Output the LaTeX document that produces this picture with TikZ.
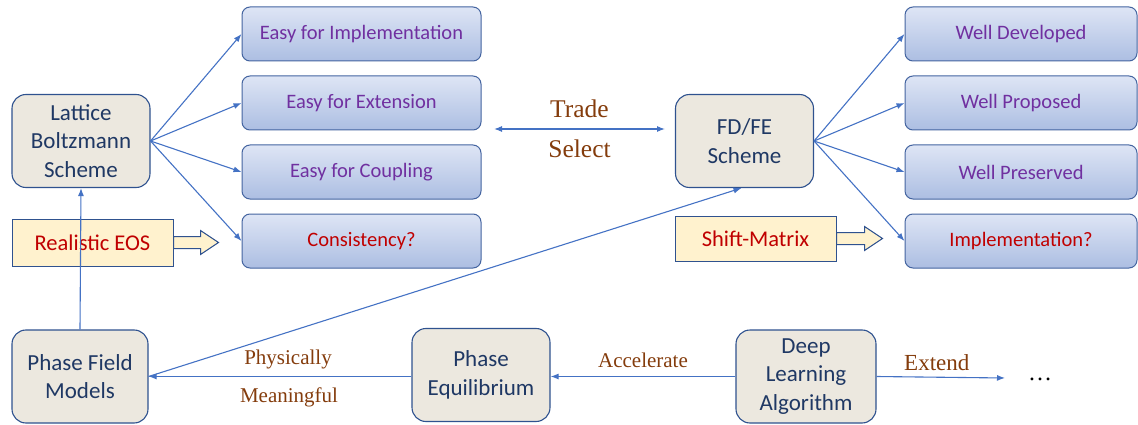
\documentclass[tikz,border=0pt]{standalone}
\usepackage{fontspec}
\setmainfont{Liberation Serif}
\setsansfont{Carlito}
\usepackage{tikz}
\usetikzlibrary{arrows.meta,positioning}
\definecolor{boxblue}{RGB}{47,82,143}
\definecolor{navy}{RGB}{31,56,100}
\definecolor{canvas}{RGB}{236,232,223}
\definecolor{edgeblue}{RGB}{68,100,160}
\definecolor{lightblue}{RGB}{222,229,245}
\definecolor{midblue}{RGB}{172,190,226}
\definecolor{violet}{RGB}{112,48,160}
\definecolor{cream}{RGB}{255,242,206}
\definecolor{darkred}{RGB}{192,0,0}
\definecolor{rust}{RGB}{132,60,12}
\definecolor{arrowblue}{RGB}{68,114,196}

\begin{document}
\begin{tikzpicture}[x=1pt,y=-1pt,node distance=14pt and 14pt,
  greybox/.style={draw=boxblue,fill=canvas,line width=1.1pt,rounded corners=14pt,minimum width=138pt,minimum height=93pt,align=center,text=navy,font=\sffamily\fontsize{23}{28.5}\selectfont},
  bluebox/.style={draw=edgeblue,line width=1pt,top color=lightblue,bottom color=midblue,rounded corners=8pt,minimum width=239pt,minimum height=54pt,text=violet,font=\sffamily\fontsize{20.5}{24}\selectfont},
  notebox/.style={draw=boxblue,fill=cream,line width=1pt,minimum width=161pt,minimum height=47pt,text=darkred,font=\sffamily\fontsize{22.5}{24}\selectfont},
  lbl/.style={text=rust,font=\fontsize{21}{24}\selectfont},
  link/.style={draw=arrowblue,line width=1.1pt,-{Latex[length=8pt,width=6pt]}}]
\useasboundingbox (0,0) rectangle (1138,425);

% left scheme
\node[greybox] (lb) at (81,141) {Lattice\\Boltzmann\\Scheme};
\node[bluebox] (impl) at (361.5,34) {Easy for Implementation};
\node[bluebox,below=of impl] (ext) {Easy for Extension};
\node[bluebox,below=of ext] (coup) {Easy for Coupling};
\node[bluebox,below=of coup,text=darkred] (cons) {Consistency?};
\node[notebox] (eos) at (92.5,242.5) {Realistic EOS};

% right scheme
\node[greybox] (fdfe) at (744.5,141) {FD/FE\\Scheme};
\node[bluebox,minimum width=232pt] (dev) at (1021,34) {Well Developed};
\node[bluebox,minimum width=232pt,below=of dev] (prop) {Well Proposed};
\node[bluebox,minimum width=232pt,below=of prop] (pres) {Well Preserved};
\node[bluebox,minimum width=232pt,below=of pres,text=darkred] (implq) {Implementation?};
\node[notebox,minimum height=45pt] (shift) at (755.5,238.5) {Shift-Matrix};

% bottom row
\node[greybox,minimum width=136pt] (pfm) at (80,376.5) {Phase Field\\Models};
\node[greybox] (peq) at (481,375) {Phase\\Equilibrium};
\node[greybox,minimum width=140pt] (dla) at (806,376.5) {Deep\\Learning\\Algorithm};
\node[font=\fontsize{24}{26}\selectfont] (dots) at (1040,379) {\dots};
\coordinate (extend) at (1005,378);
\coordinate (tradeL) at (494,129);
\coordinate (tradeR) at (665,129);

% block arrows
\draw[draw=boxblue,fill=cream,line width=1pt] (eos.east) ++(0,-6) -- ++(27,0) -- ++(0,-6) -- ++(18,12) -- ++(-18,12) -- ++(0,-6) -- ++(-27,0) -- cycle;
\draw[draw=boxblue,fill=cream,line width=1pt] (shift.east) ++(0,-6) -- ++(28,0) -- ++(0,-6) -- ++(18,12) -- ++(-18,12) -- ++(0,-6) -- ++(-28,0) -- cycle;

% connectors
\foreach \t in {impl,ext,coup,cons} \draw[link] (lb.east) -- (\t.west);
\foreach \t in {dev,prop,pres,implq} \draw[link] (fdfe.east) -- (\t.west);
\draw[draw=arrowblue,line width=1.1pt,{Latex[length=8pt,width=6pt]}-{Latex[length=8pt,width=6pt]}] (tradeL) -- (tradeR)
  node[lbl,midway,above=7pt] {\fontsize{25.5}{27}\selectfont Trade}
  node[lbl,midway,below=7pt] {\fontsize{25.5}{27}\selectfont Select};
\draw[link] (pfm.north) -- (lb.south);
\draw[link] (pfm.east) -- ([xshift=-3pt]fdfe.south);
\draw[link] (peq.west |- pfm.east) -- (pfm.east)
  node[lbl,pos=0.5,above=4pt,xshift=8pt] {Physically}
  node[lbl,pos=0.5,below=7pt,xshift=9pt] {Meaningful};
\draw[link] (dla.west) -- (dla.west -| peq.east) node[lbl,midway,above=5pt] {Accelerate};
\draw[link] (dla.east) -- (extend) node[lbl,midway,above=3pt,xshift=-4pt] {\fontsize{23}{25}\selectfont Extend};
\end{tikzpicture}
\end{document}
